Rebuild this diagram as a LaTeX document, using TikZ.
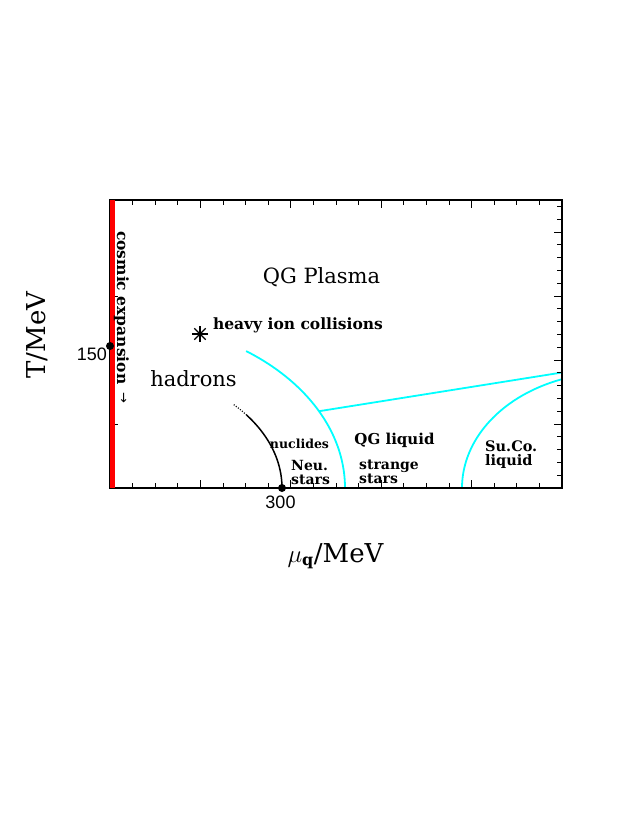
\documentclass[tikz,border=0pt]{standalone}
\usepackage{fontspec}
\setmainfont{DejaVu Serif}
\newfontfamily\labfont{Liberation Sans}
\newfontfamily\symfont{DejaVu Sans}
\definecolor{cy}{RGB}{0,255,255}
\begin{document}
\begin{tikzpicture}[x=1pt,y=-1pt,
  frame/.style={line width=1.3pt},
  tick/.style={line width=1pt},
  phase/.style={cy,line width=1.8pt},
  blk/.style={black,line width=1.5pt},
  region/.style={font=\fontsize{21}{25}\selectfont},
  small/.style={font=\bfseries\fontsize{14}{14}\selectfont,anchor=base west,inner sep=0pt},
  axlab/.style={font=\fontsize{26}{30}\selectfont},
  num/.style={font=\labfont\fontsize{18}{20}\selectfont}]
\useasboundingbox (0,0) rectangle (632,818);
\fill[white] (0,0) rectangle (632,818);

% phase boundaries
\coordinate (tp) at ({110+235*cos(27.2)},{488-168*sin(27.2)});
\coordinate (re) at (562,372.5);
\draw[phase] plot[domain=0:54.6,samples=80] ({110+235*cos(\x)},{488-168*sin(\x)});
\draw[phase] plot[domain=0:70.4,samples=80] ({612-150*cos(\x)},{488-115.4*sin(\x)});
\draw[phase] (tp) -- (re);

% nuclides line
\draw[blk] plot[domain=0:37.4,samples=60] ({110+172*cos(\x)},{488-120*sin(\x)});
\draw[blk,line width=1.2pt,dash pattern=on 1pt off 1.6pt] plot[domain=37.4:44.6,samples=20] ({110+172*cos(\x)},{488-120*sin(\x)});

% frame and ticks
\draw[frame] (110,200) rectangle (562,488);
\foreach \k in {1,...,19}{
  \pgfmathsetmacro\xx{110+22.6*\k}
  \pgfmathsetmacro\len{ifthenelse(mod(\k,4)==0,8,5)}
  \draw[tick] (\xx,200) -- ++(0,\len);
  \draw[tick] (\xx,488) -- ++(0,-\len);
}
\foreach \k in {1,...,22}{
  \pgfmathsetmacro\yy{488-12.8*\k}
  \pgfmathsetmacro\len{ifthenelse(mod(\k,5)==0,8,5)}
  \draw[tick] (562,\yy) -- ++(-\len,0);
}
\draw[tick] (110,296) -- (118,296);
\draw[tick] (110,424) -- (118,424);

% cosmic expansion line
\draw[red,line width=5pt] (112.5,200) -- (112.5,488);

% points
\fill (110,346) circle[radius=4];
\fill (282,488) circle[radius=4];

% heavy ion star
\foreach \a in {0,45,90,135}{
  \draw[line width=1.3pt] ({200+8*cos(\a)},{334+8*sin(\a)}) -- ({200-8*cos(\a)},{334-8*sin(\a)});
}

% texts
\node[region,anchor=base] (plasma) at (321.5,283) {QG Plasma};
\node[font=\bfseries\fontsize{15.5}{18}\selectfont,anchor=base] (hic) at (298,329) {heavy ion collisions};
\node[region,anchor=base] (hadrons) at (193.5,386) {hadrons};
\node[font=\bfseries\fontsize{12.5}{14}\selectfont,anchor=base] (nucl) at (299.5,448) {nuclides};
\node[small] (neu) at (291,470) {Neu.};
\node[small] (neus) at (291,484) {stars};
\node[font=\bfseries\fontsize{15}{18}\selectfont,anchor=base] (qgl) at (394.5,444) {QG liquid};
\node[small] (strange) at (359,469) {strange};
\node[small] (strs) at (359,483) {stars};
\node[small,font=\bfseries\fontsize{14.5}{14}\selectfont] (su) at (485,451) {Su.Co.};
\node[small,font=\bfseries\fontsize{14.5}{14}\selectfont] (liq) at (485,465) {liquid};
\node[font=\bfseries\fontsize{15.5}{18}\selectfont,rotate=-90,anchor=base west,inner sep=0pt] (cosmic) at (117,231) {cosmic expansion};
\node[font=\symfont\fontsize{13}{13}\selectfont,rotate=-90,anchor=west,inner sep=0pt] (arr) at (123,392) {→};
\node[num,anchor=base east,inner sep=0pt] (t150) at (107,360) {150};
\node[num,anchor=base,inner sep=0pt] (m300) at (280.5,508) {300};
\node[axlab,rotate=90,anchor=base,inner sep=0pt] (ylab) at (45,335) {T/MeV};
\node[axlab,anchor=base,inner sep=0pt] (xlab) at (335.5,562) {$\mu_{\textbf{\fontsize{16}{16}\selectfont q}}$/MeV};
\end{tikzpicture}
\end{document}
